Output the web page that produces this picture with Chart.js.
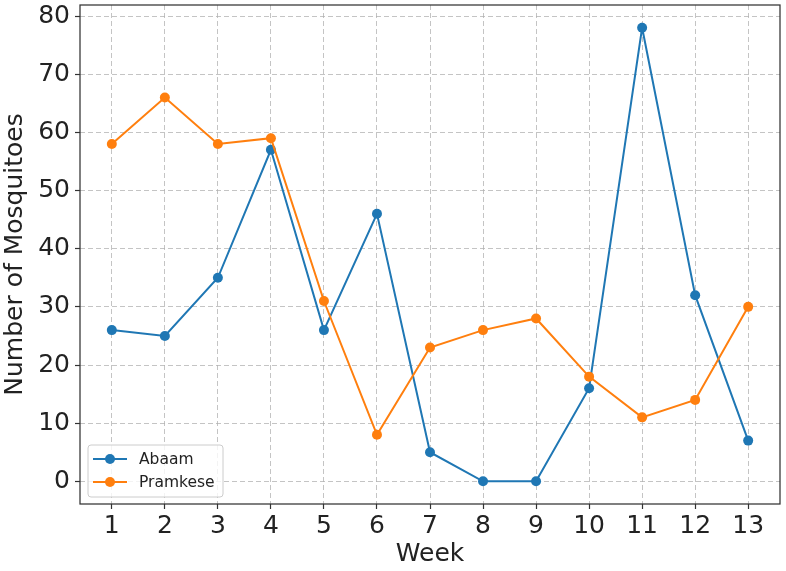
<!DOCTYPE html>
<html>
<head>
<meta charset="utf-8">
<script src="https://cdn.jsdelivr.net/npm/chart.js@4/dist/chart.umd.min.js"></script>
<style>
html,body{margin:0;padding:0;background:#fff;}
#wrap{width:786px;height:571px;}
</style>
</head>
<body>
<div id="wrap"><canvas id="c" width="786" height="571"></canvas></div>
<script>
const weeks = [1,2,3,4,5,6,7,8,9,10,11,12,13];
const abaam = [26,25,35,57,26,46,5,0,0,16,78,32,7];
const pramkese = [58,66,58,59,31,8,23,26,28,18,11,14,30];
const xTicks = [1,2,3,4,5,6,7,8,9,10,11,12,13];
const yTicks = [0,10,20,30,40,50,60,70,80];
const seriesNames = ['Abaam','Pramkese'];
const seriesColors = ['#1f77b4','#ff7f0e'];

const FONT = "'DejaVu Sans', sans-serif";

const framePlugin = {
  id: 'frame',
  afterDatasetsDraw(chart) {
    const {ctx, chartArea: a} = chart;
    ctx.save();
    ctx.strokeStyle = '#333';
    ctx.lineWidth = 1.25;
    ctx.strokeRect(a.left, a.top, a.right - a.left, a.bottom - a.top);
    ctx.restore();
  },
  afterDraw(chart) {
    const {ctx, chartArea: a} = chart;
    const bx = a.left + 8, by = a.bottom - 59, bw = 135, bh = 52;
    ctx.save();
    ctx.fillStyle = 'rgba(255,255,255,0.8)';
    ctx.strokeStyle = '#cccccc';
    ctx.lineWidth = 1;
    ctx.beginPath();
    const r = 3;
    ctx.moveTo(bx + r, by);
    ctx.arcTo(bx + bw, by, bx + bw, by + bh, r);
    ctx.arcTo(bx + bw, by + bh, bx, by + bh, r);
    ctx.arcTo(bx, by + bh, bx, by, r);
    ctx.arcTo(bx, by, bx + bw, by, r);
    ctx.closePath();
    ctx.fill();
    ctx.stroke();
    chart.data.datasets.forEach((ds, i) => {
      const yy = by + 14 + i * 23;
      ctx.strokeStyle = ds.borderColor;
      ctx.lineWidth = 2;
      ctx.beginPath();
      ctx.moveTo(bx + 5, yy);
      ctx.lineTo(bx + 39, yy);
      ctx.stroke();
      ctx.fillStyle = ds.backgroundColor;
      ctx.beginPath();
      ctx.arc(bx + 22, yy, 5, 0, Math.PI * 2);
      ctx.fill();
      ctx.fillStyle = '#222';
      ctx.font = '15.5px ' + FONT;
      ctx.textBaseline = 'middle';
      ctx.textAlign = 'left';
      ctx.fillText(ds.label, bx + 51, yy + 1);
    });
    ctx.restore();
  }
};

function mk(vals){ return weeks.map((w,i)=>({x:w,y:vals[i]})); }

const gridOpts = {color: 'rgba(176,176,176,0.75)', lineWidth: 1, drawTicks: true,
                  tickLength: 5, tickColor: '#333', tickBorderDash: [], tickWidth: 1.2};

new Chart(document.getElementById('c'), {
  type: 'line',
  data: {
    datasets: [
      {label: seriesNames[0], data: mk(abaam), borderColor: seriesColors[0], backgroundColor: seriesColors[0],
       borderWidth: 2, pointRadius: 5, pointBorderWidth: 0, pointBackgroundColor: seriesColors[0], tension: 0, order: 1},
      {label: seriesNames[1], data: mk(pramkese), borderColor: seriesColors[1], backgroundColor: seriesColors[1],
       borderWidth: 2, pointRadius: 5, pointBorderWidth: 0, pointBackgroundColor: seriesColors[1], tension: 0, order: 0}
    ]
  },
  options: {
    responsive: false,
    animation: false,
    devicePixelRatio: 1,
    layout: {padding: {left: 0, right: 6, top: 5, bottom: 0}},
    plugins: {legend: {display: false}, tooltip: {enabled: false}},
    scales: {
      x: {
        type: 'linear', min: 0.4, max: 13.6,
        afterBuildTicks: s => { s.ticks = xTicks.map(v => ({value: v})); },
        afterFit: s => { s.height = 67; s.paddingLeft = 0; s.paddingRight = 0; },
        ticks: {color: '#222', font: {family: FONT, size: 25}, padding: 2, maxRotation: 0, autoSkip: false,
                callback: v => String(v)},
        grid: gridOpts,
        border: {display: false, dash: [5, 3]},
        title: {display: true, text: 'Week', color: '#222', font: {family: FONT, size: 25}, padding: {top: 0, bottom: 2}}
      },
      y: {
        type: 'linear', min: -3.9, max: 81.9,
        afterBuildTicks: s => { s.ticks = yTicks.map(v => ({value: v})); },
        afterFit: s => { s.width = 80; s.paddingTop = 0; s.paddingBottom = 0; },
        ticks: {color: '#222', font: {family: FONT, size: 25}, padding: 5, callback: v => String(v)},
        grid: gridOpts,
        border: {display: false, dash: [5, 3]},
        title: {display: true, text: 'Number of Mosquitoes', color: '#222', font: {family: FONT, size: 25}, padding: {top: 0, bottom: 0}}
      }
    }
  },
  plugins: [framePlugin]
});
</script>
</body>
</html>
